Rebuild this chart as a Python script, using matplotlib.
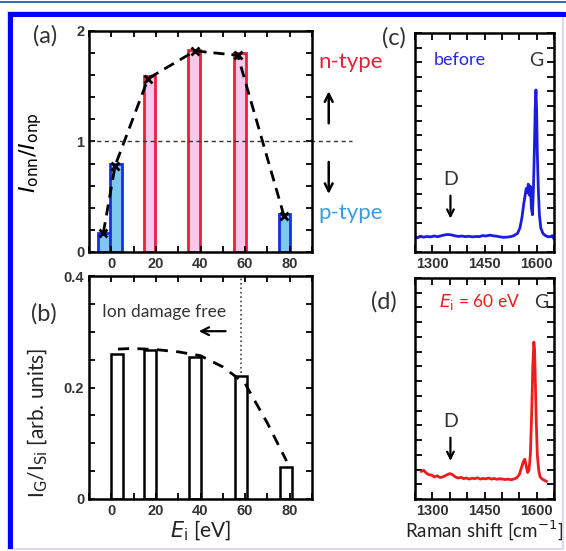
import matplotlib
matplotlib.use('Agg')
import matplotlib.pyplot as plt
from matplotlib.patches import Rectangle
from matplotlib.ticker import MultipleLocator, FixedLocator, NullFormatter

# (a) on/off current ratio vs ion energy
a_bar_x = [-3.2, 2.2, 17.2, 37.2, 57.7, 77.7]
a_bar_h = [0.17, 0.80, 1.59, 1.83, 1.80, 0.34]
a_bar_type = ['p', 'p', 'n', 'n', 'n', 'p']
a_pt_x = [-3.6, 1.7, 16.5, 37.6, 56.7, 77.4]
a_pt_y = [0.17, 0.78, 1.57, 1.82, 1.78, 0.33]

# (b) I_G / I_Si
b_bar_x = [2.7, 17.5, 37.7, 58.0, 78.2]
b_bar_h = [0.26, 0.268, 0.255, 0.221, 0.058]
b_fit_x = [3, 10, 20, 30, 40, 50, 60, 70, 78.6]
b_fit_y = [0.269, 0.27, 0.268, 0.264, 0.257, 0.237, 0.207, 0.136, 0.068]

# (c) Raman spectrum before
c_x = [1250, 1258, 1265, 1275, 1285, 1295, 1305, 1315, 1325, 1335, 1345, 1355, 1365,
       1375, 1385, 1395, 1405, 1415, 1425, 1435, 1445, 1455, 1465, 1475, 1485, 1495,
       1505, 1515, 1525, 1535, 1545, 1552, 1558, 1563, 1567, 1570, 1573, 1576, 1579,
       1582, 1585, 1588, 1591, 1594, 1596, 1598, 1600, 1602, 1605, 1608, 1612, 1618,
       1625, 1632, 1640, 1645, 1650]
c_y = [0.07, 0.065, 0.072, 0.068, 0.071, 0.069, 0.073, 0.07, 0.074, 0.078, 0.08, 0.078,
       0.074, 0.071, 0.073, 0.07, 0.072, 0.069, 0.071, 0.07, 0.075, 0.073, 0.077, 0.074,
       0.072, 0.069, 0.067, 0.068, 0.07, 0.075, 0.085, 0.11, 0.16, 0.22, 0.26, 0.29,
       0.27, 0.31, 0.26, 0.30, 0.20, 0.17, 0.30, 0.50, 0.66, 0.74, 0.65, 0.45, 0.28,
       0.17, 0.11, 0.085, 0.075, 0.07, 0.07, 0.075, 0.06]

# (d) Raman spectrum after 60 eV
d_x = [1268, 1275, 1282, 1290, 1298, 1306, 1314, 1322, 1330, 1340, 1350, 1358, 1366,
       1374, 1382, 1390, 1398, 1406, 1414, 1422, 1430, 1438, 1446, 1454, 1462, 1470,
       1478, 1486, 1494, 1502, 1510, 1518, 1526, 1534, 1542, 1550, 1556, 1562, 1566,
       1570, 1574, 1578, 1582, 1586, 1589, 1592, 1594, 1596, 1599, 1602, 1606, 1610,
       1616, 1622, 1628]
d_y = [0.125, 0.13, 0.118, 0.11, 0.108, 0.10, 0.105, 0.097, 0.10, 0.108, 0.115, 0.11,
       0.10, 0.095, 0.098, 0.092, 0.095, 0.09, 0.094, 0.092, 0.096, 0.09, 0.093, 0.091,
       0.095, 0.09, 0.093, 0.089, 0.092, 0.09, 0.088, 0.09, 0.087, 0.09, 0.095, 0.11,
       0.14, 0.17, 0.18, 0.15, 0.12, 0.13, 0.20, 0.40, 0.60, 0.71, 0.68, 0.55, 0.35,
       0.20, 0.13, 0.10, 0.09, 0.085, 0.08]

TXT = 'Lato'
NUM = 'Liberation Sans'
RED = '#e8203a'
PBLUE = '#3a9be0'

fig = plt.figure(figsize=(5.66, 5.51), dpi=100)


def style_ax(ax):
    ax.tick_params(which='both', direction='in', top=True, right=True, width=1.3, length=4)
    for s in ax.spines.values():
        s.set_linewidth(1.8)
    for lab in ax.get_xticklabels() + ax.get_yticklabels():
        lab.set_fontfamily(NUM)
        lab.set_fontweight('bold')
        lab.set_fontsize(10.5)
        lab.set_color('#333333')


def px(l, t, r, b):
    return [l / 566, 1 - b / 551, (r - l) / 566, (b - t) / 551]


# ---- (a)
ax_a = fig.add_axes(px(89, 31, 312, 252))
for x, h, t in zip(a_bar_x, a_bar_h, a_bar_type):
    if t == 'p':
        ax_a.bar(x, h, width=5.2, color='#7cc8f0', edgecolor='#1a2ee0', linewidth=2)
    else:
        ax_a.bar(x, h, width=5.2, color='#f8c8ee', edgecolor=RED, linewidth=2)
ax_a.plot(a_pt_x, a_pt_y, '--', color='black', lw=2, dashes=(4, 2.5),
          marker='x', ms=6, mew=2)
ax_a.plot([-10, 108], [1, 1], '--', color='#333333', lw=1, dashes=(3, 2.5), clip_on=False)
ax_a.set_xlim(-10, 90)
ax_a.set_ylim(0, 2)
ax_a.xaxis.set_major_locator(MultipleLocator(20))
ax_a.xaxis.set_minor_locator(MultipleLocator(10))
ax_a.yaxis.set_major_locator(MultipleLocator(1))
ax_a.yaxis.set_minor_locator(MultipleLocator(0.2))
style_ax(ax_a)
ax_a.set_ylabel(r'$I_{\rm onn}/I_{\rm onp}$', fontsize=16)
ax_a.yaxis.set_label_coords(-0.2, 0.45)
ax_a.text(-0.25, 0.98, '(a)', transform=ax_a.transAxes, fontsize=17, family=TXT,
          va='center', color='#333333')
ax_a.text(1.03, 0.86, 'n-type', transform=ax_a.transAxes, fontsize=16, family=TXT,
          color=RED, va='center')
ax_a.text(1.03, 0.175, 'p-type', transform=ax_a.transAxes, fontsize=16, family=TXT,
          color=PBLUE, va='center')
ax_a.annotate('', xy=(1.075, 0.74), xytext=(1.075, 0.57), xycoords='axes fraction',
              arrowprops=dict(arrowstyle='->', lw=1.8, color='black', mutation_scale=14))
ax_a.annotate('', xy=(1.075, 0.25), xytext=(1.075, 0.42), xycoords='axes fraction',
              arrowprops=dict(arrowstyle='->', lw=1.8, color='black', mutation_scale=14))

# ---- (b)
ax_b = fig.add_axes(px(89, 276, 312, 499))
ax_b.bar(b_bar_x, b_bar_h, width=5.4, color='white', edgecolor='black', linewidth=1.8)
ax_b.plot(b_fit_x, b_fit_y, '--', color='black', lw=2, dashes=(4, 3))
ax_b.plot([58, 58], [0.226, 0.4], ':', color='#444444', lw=1.2)
ax_b.set_xlim(-10, 90)
ax_b.set_ylim(0, 0.4)
ax_b.xaxis.set_major_locator(MultipleLocator(20))
ax_b.xaxis.set_minor_locator(MultipleLocator(10))
ax_b.yaxis.set_major_locator(MultipleLocator(0.2))
ax_b.yaxis.set_minor_locator(MultipleLocator(0.05))
ax_b.yaxis.set_major_formatter(matplotlib.ticker.FuncFormatter(
    lambda v, p: '0' if v == 0 else f'{v:.1f}'))
style_ax(ax_b)
ax_b.set_ylabel(r'I$_{\rm G}$/I$_{\rm Si}$ [arb. units]', fontsize=15, family=TXT,
                color='#222222')
ax_b.yaxis.set_label_coords(-0.175, 0.34)
ax_b.set_xlabel(r'$E_{\rm i}$ [eV]', fontsize=15, family=TXT, labelpad=1, color='#222222')
ax_b.text(-0.26, 0.83, '(b)', transform=ax_b.transAxes, fontsize=17, family=TXT,
          va='center', color='#333333')
ax_b.text(-4, 0.335, 'Ion damage free', fontsize=12.5, family=TXT, va='center',
          color='#333333')
ax_b.annotate('', xy=(38, 0.301), xytext=(52.5, 0.301),
              arrowprops=dict(arrowstyle='->', lw=1.6, color='black', mutation_scale=14))

# ---- (c)
ax_c = fig.add_axes(px(415, 33, 554, 252))
ax_c.plot(c_x, c_y, color='#1c1ce0', lw=2)
ax_c.set_xlim(1250, 1650)
ax_c.set_ylim(0, 1)
ax_c.xaxis.set_major_locator(FixedLocator([1300, 1450, 1600]))
ax_c.xaxis.set_minor_locator(MultipleLocator(50))
ax_c.yaxis.set_major_locator(MultipleLocator(1 / 15))
ax_c.yaxis.set_major_formatter(NullFormatter())
style_ax(ax_c)
ax_c.tick_params(which='both', length=5)
ax_c.text(-0.24, 0.98, '(c)', transform=ax_c.transAxes, fontsize=17, family=TXT,
          va='center', color='#333333')
ax_c.text(1303, 0.875, 'before', fontsize=13, family=TXT, color='#2828e0', va='center')
ax_c.text(1600, 0.875, 'G', fontsize=14, family=TXT, color='#333333', va='center',
          ha='center')
ax_c.text(1352, 0.33, 'D', fontsize=14, family=TXT, color='#333333', va='center',
          ha='center')
ax_c.annotate('', xy=(1352, 0.14), xytext=(1352, 0.27),
              arrowprops=dict(arrowstyle='->', lw=1.6, color='black', mutation_scale=12))

# ---- (d)
ax_d = fig.add_axes(px(415, 278, 554, 499))
ax_d.plot(d_x, d_y, color='#ee1c1c', lw=2)
ax_d.set_xlim(1250, 1650)
ax_d.set_ylim(0, 1)
ax_d.xaxis.set_major_locator(FixedLocator([1300, 1450, 1600]))
ax_d.xaxis.set_minor_locator(MultipleLocator(50))
ax_d.yaxis.set_major_locator(MultipleLocator(1 / 15))
ax_d.yaxis.set_major_formatter(NullFormatter())
style_ax(ax_d)
ax_d.tick_params(which='both', length=5)
ax_d.text(-0.32, 0.89, '(d)', transform=ax_d.transAxes, fontsize=17, family=TXT,
          va='center', color='#333333')
ax_d.text(1320, 0.89, r'$E_{\rm i}$ = 60 eV', fontsize=12.5, family=TXT, color='#ee1c1c',
          va='center')
ax_d.text(1612, 0.89, 'G', fontsize=14, family=TXT, color='#333333', va='center',
          ha='center')
ax_d.text(1352, 0.35, 'D', fontsize=14, family=TXT, color='#333333', va='center',
          ha='center')
ax_d.annotate('', xy=(1352, 0.16), xytext=(1352, 0.29),
              arrowprops=dict(arrowstyle='->', lw=1.6, color='black', mutation_scale=12))
ax_d.set_xlabel(r'Raman shift [cm$^{-1}$]', fontsize=13.5, family=TXT, labelpad=1,
                color='#222222')

# frame
fig.patches.append(Rectangle((0, 1 - 3 / 551), 1, 2 / 551, transform=fig.transFigure,
                             color='#2a6fc0', lw=0))
fig.patches.append(Rectangle((8 / 566, 2 / 551), 555 / 566, 537 / 551,
                             transform=fig.transFigure, fill=False,
                             edgecolor='#d8d8f8', lw=1.5))
fig.patches.append(Rectangle((8 / 566, 1 - 17 / 551), 558 / 566, 5 / 551,
                             transform=fig.transFigure, color='#0000ff', lw=0))
fig.patches.append(Rectangle((8 / 566, 2 / 551), 5 / 566, 537 / 551,
                             transform=fig.transFigure, color='#0000ff', lw=0))

plt.savefig('out.png', dpi=100)
